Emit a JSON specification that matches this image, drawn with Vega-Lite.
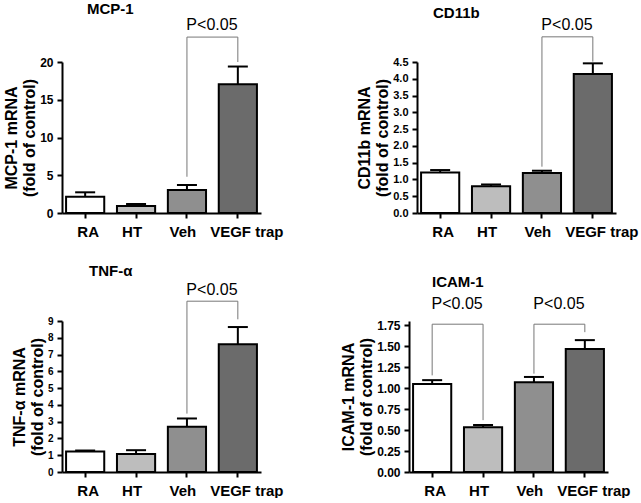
{
  "$schema": "https://vega.github.io/schema/vega-lite/v6.json",
  "padding": {"left": 3, "top": 2, "right": 0, "bottom": 0},
  "background": "white",
  "config": {
    "font": "Liberation Sans",
    "view": {"stroke": null},
    "axis": {"grid": false, "domainColor": "black", "domainWidth": 2, "tickColor": "black", "tickWidth": 2, "tickSize": 5, "labelColor": "black", "labelFontWeight": "bold", "titleColor": "black", "titleFontWeight": "bold", "titleFontSize": 16, "titleLineHeight": 18, "labelOverlap": false},
    "axisX": {"labelFontSize": 15, "labelPadding": 6, "labelAngle": 0, "title": null, "labelOverlap": false},
    "axisY": {"labelFontSize": 12, "labelPadding": 4, "titlePadding": 2, "labelOverlap": false},
    "title": {"fontSize": 15, "fontWeight": "bold", "color": "black", "anchor": "start", "frame": "group"}
  },
  "datasets": {
    "mcp": [
      {"group": "RA", "mean": 2.16, "upper": 2.74},
      {"group": "HT", "mean": 0.93, "upper": 1.19},
      {"group": "Veh", "mean": 3.05, "upper": 3.71},
      {"group": "VEGF trap", "mean": 17.05, "upper": 19.4}
    ],
    "mcpSig": [{"from": "Veh", "to": "VEGF trap", "y1": 4.8, "y2": 20.0, "top": 23.3, "ty": 24.9, "label": "P<0.05"}],
    "cd": [
      {"group": "RA", "mean": 1.21, "upper": 1.28},
      {"group": "HT", "mean": 0.8, "upper": 0.85},
      {"group": "Veh", "mean": 1.19, "upper": 1.26},
      {"group": "VEGF trap", "mean": 4.14, "upper": 4.46}
    ],
    "cdSig": [{"from": "Veh", "to": "VEGF trap", "y1": 1.38, "y2": 4.51, "top": 5.25, "ty": 5.6, "label": "P<0.05"}],
    "tnf": [
      {"group": "RA", "mean": 1.22, "upper": 1.28},
      {"group": "HT", "mean": 1.08, "upper": 1.3},
      {"group": "Veh", "mean": 2.7, "upper": 3.19},
      {"group": "VEGF trap", "mean": 7.62, "upper": 8.64}
    ],
    "tnfSig": [{"from": "Veh", "to": "VEGF trap", "y1": 3.48, "y2": 9.1, "top": 10.18, "ty": 10.87, "label": "P<0.05"}],
    "icam": [
      {"group": "RA", "mean": 1.049, "upper": 1.095},
      {"group": "HT", "mean": 0.534, "upper": 0.56},
      {"group": "Veh", "mean": 1.069, "upper": 1.133},
      {"group": "VEGF trap", "mean": 1.465, "upper": 1.572}
    ],
    "icamSig": [
      {"from": "RA", "to": "HT", "y1": 1.152, "y2": 0.618, "top": 1.762, "ty": 2.0, "label": "P<0.05"},
      {"from": "Veh", "to": "VEGF trap", "y1": 1.172, "y2": 1.667, "top": 1.762, "ty": 2.0, "label": "P<0.05"}
    ]
  },
  "spacing": 24,
  "vconcat": [
    {
      "spacing": 72,
      "hconcat": [
        {
          "width": 199, "height": 151,
          "title": {"text": "MCP-1", "dx": 25, "offset": 0},
          "layer": [
            {"data": {"name": "mcp"}, "mark": {"type": "bar", "stroke": "black", "strokeWidth": 2},
             "encoding": {
               "x": {"field": "group", "type": "nominal", "sort": ["RA", "HT", "Veh", "VEGF trap"], "scale": {"domain": ["RA", "HT", "Veh", "VEGF trap"], "paddingInner": 0.25, "paddingOuter": 0.08}, "axis": {"labelOverlap": false, "labelOffset": {"condition": [{"test": "datum.value === 'VEGF trap'", "value": 9}, {"test": "datum.value === 'RA'", "value": 3}], "value": -4}}},
               "y": {"field": "mean", "type": "quantitative", "scale": {"domain": [0, 20]}, "axis": {"values": [0, 5, 10, 15, 20], "labelOverlap": false, "title": ["MCP-1 mRNA", "(fold of control)"]}},
               "fill": {"field": "group", "type": "nominal", "scale": {"domain": ["RA", "HT", "Veh", "VEGF trap"], "range": ["#ffffff", "#bdbdbd", "#8f8f8f", "#6b6b6b"]}, "legend": null}
             }},
            {"data": {"name": "mcp"}, "mark": {"type": "rule", "strokeWidth": 2, "color": "black"},
             "encoding": {"x": {"field": "group", "type": "nominal"}, "y": {"field": "mean", "type": "quantitative", "axis": {"values": [0, 5, 10, 15, 20], "labelOverlap": false, "title": ["MCP-1 mRNA", "(fold of control)"]}}, "y2": {"field": "upper"}}},
            {"data": {"name": "mcp"}, "mark": {"type": "tick", "thickness": 2, "color": "black", "opacity": 1},
             "encoding": {"x": {"field": "group", "type": "nominal"}, "y": {"field": "upper", "type": "quantitative", "axis": {"values": [0, 5, 10, 15, 20], "labelOverlap": false, "title": ["MCP-1 mRNA", "(fold of control)"]}}, "size": {"value": 20}}},
            {"data": {"name": "mcpSig"}, "mark": {"type": "rule", "strokeWidth": 1, "color": "#777777"},
             "encoding": {"x": {"field": "from", "type": "nominal"}, "y": {"field": "y1", "type": "quantitative", "axis": {"values": [0, 5, 10, 15, 20], "labelOverlap": false, "title": ["MCP-1 mRNA", "(fold of control)"]}}, "y2": {"field": "top"}}},
            {"data": {"name": "mcpSig"}, "mark": {"type": "rule", "strokeWidth": 1, "color": "#777777"},
             "encoding": {"x": {"field": "to", "type": "nominal"}, "y": {"field": "y2", "type": "quantitative", "axis": {"values": [0, 5, 10, 15, 20], "labelOverlap": false, "title": ["MCP-1 mRNA", "(fold of control)"]}}, "y2": {"field": "top"}}},
            {"data": {"name": "mcpSig"}, "mark": {"type": "rule", "strokeWidth": 1, "color": "#777777"},
             "encoding": {"x": {"field": "from", "type": "nominal"}, "x2": {"field": "to"}, "y": {"field": "top", "type": "quantitative", "axis": {"values": [0, 5, 10, 15, 20], "labelOverlap": false, "title": ["MCP-1 mRNA", "(fold of control)"]}}}},
            {"data": {"name": "mcpSig"}, "mark": {"type": "text", "fontSize": 16, "color": "black", "dx": 25, "baseline": "middle"},
             "encoding": {"x": {"field": "from", "type": "nominal"}, "y": {"field": "ty", "type": "quantitative", "axis": {"values": [0, 5, 10, 15, 20], "labelOverlap": false, "title": ["MCP-1 mRNA", "(fold of control)"]}}, "text": {"field": "label"}}}
          ]
        },
        {
          "width": 199, "height": 151,
          "title": {"text": "CD11b", "dx": 16, "offset": 0, "dy": 4},
          "layer": [
            {"data": {"name": "cd"}, "mark": {"type": "bar", "stroke": "black", "strokeWidth": 2},
             "encoding": {
               "x": {"field": "group", "type": "nominal", "sort": ["RA", "HT", "Veh", "VEGF trap"], "scale": {"domain": ["RA", "HT", "Veh", "VEGF trap"], "paddingInner": 0.25, "paddingOuter": 0.08}, "axis": {"labelOverlap": false, "labelOffset": {"condition": [{"test": "datum.value === 'VEGF trap'", "value": 9}, {"test": "datum.value === 'RA'", "value": 3}], "value": -4}}},
               "y": {"field": "mean", "type": "quantitative", "scale": {"domain": [0, 4.5]}, "axis": {"values": [0, 0.5, 1, 1.5, 2, 2.5, 3, 3.5, 4, 4.5], "labelOverlap": false, "labelFontSize": 11, "format": ".1f", "title": ["CD11b mRNA", "(fold of control)"]}},
               "fill": {"field": "group", "type": "nominal", "scale": {"domain": ["RA", "HT", "Veh", "VEGF trap"], "range": ["#ffffff", "#b5b5b5", "#919191", "#666666"]}, "legend": null}
             }},
            {"data": {"name": "cd"}, "mark": {"type": "rule", "strokeWidth": 2, "color": "black"},
             "encoding": {"x": {"field": "group", "type": "nominal"}, "y": {"field": "mean", "type": "quantitative", "axis": {"values": [0, 0.5, 1, 1.5, 2, 2.5, 3, 3.5, 4, 4.5], "labelOverlap": false, "labelFontSize": 11, "format": ".1f", "title": ["CD11b mRNA", "(fold of control)"]}}, "y2": {"field": "upper"}}},
            {"data": {"name": "cd"}, "mark": {"type": "tick", "thickness": 2, "color": "black", "opacity": 1},
             "encoding": {"x": {"field": "group", "type": "nominal"}, "y": {"field": "upper", "type": "quantitative", "axis": {"values": [0, 0.5, 1, 1.5, 2, 2.5, 3, 3.5, 4, 4.5], "labelOverlap": false, "labelFontSize": 11, "format": ".1f", "title": ["CD11b mRNA", "(fold of control)"]}}, "size": {"value": 20}}},
            {"data": {"name": "cdSig"}, "mark": {"type": "rule", "strokeWidth": 1, "color": "#777777"},
             "encoding": {"x": {"field": "from", "type": "nominal"}, "y": {"field": "y1", "type": "quantitative", "axis": {"values": [0, 0.5, 1, 1.5, 2, 2.5, 3, 3.5, 4, 4.5], "labelOverlap": false, "labelFontSize": 11, "format": ".1f", "title": ["CD11b mRNA", "(fold of control)"]}}, "y2": {"field": "top"}}},
            {"data": {"name": "cdSig"}, "mark": {"type": "rule", "strokeWidth": 1, "color": "#777777"},
             "encoding": {"x": {"field": "to", "type": "nominal"}, "y": {"field": "y2", "type": "quantitative", "axis": {"values": [0, 0.5, 1, 1.5, 2, 2.5, 3, 3.5, 4, 4.5], "labelOverlap": false, "labelFontSize": 11, "format": ".1f", "title": ["CD11b mRNA", "(fold of control)"]}}, "y2": {"field": "top"}}},
            {"data": {"name": "cdSig"}, "mark": {"type": "rule", "strokeWidth": 1, "color": "#777777"},
             "encoding": {"x": {"field": "from", "type": "nominal"}, "x2": {"field": "to"}, "y": {"field": "top", "type": "quantitative", "axis": {"values": [0, 0.5, 1, 1.5, 2, 2.5, 3, 3.5, 4, 4.5], "labelOverlap": false, "labelFontSize": 11, "format": ".1f", "title": ["CD11b mRNA", "(fold of control)"]}}}},
            {"data": {"name": "cdSig"}, "mark": {"type": "text", "fontSize": 16, "color": "black", "dx": 25, "baseline": "middle"},
             "encoding": {"x": {"field": "from", "type": "nominal"}, "y": {"field": "ty", "type": "quantitative", "axis": {"values": [0, 0.5, 1, 1.5, 2, 2.5, 3, 3.5, 4, 4.5], "labelOverlap": false, "labelFontSize": 11, "format": ".1f", "title": ["CD11b mRNA", "(fold of control)"]}}, "text": {"field": "label"}}}
          ]
        }
      ]
    },
    {
      "spacing": 56,
      "hconcat": [
        {
          "width": 199, "height": 151,
          "title": {"text": "TNF-α", "dx": 27, "offset": 3},
          "layer": [
            {"data": {"name": "tnf"}, "mark": {"type": "bar", "stroke": "black", "strokeWidth": 2},
             "encoding": {
               "x": {"field": "group", "type": "nominal", "sort": ["RA", "HT", "Veh", "VEGF trap"], "scale": {"domain": ["RA", "HT", "Veh", "VEGF trap"], "paddingInner": 0.25, "paddingOuter": 0.08}, "axis": {"labelOverlap": false, "labelOffset": {"condition": [{"test": "datum.value === 'VEGF trap'", "value": 9}, {"test": "datum.value === 'RA'", "value": 3}], "value": -4}}},
               "y": {"field": "mean", "type": "quantitative", "scale": {"domain": [0, 9]}, "axis": {"values": [0, 1, 2, 3, 4, 5, 6, 7, 8, 9], "labelOverlap": false, "labelFontSize": 10, "title": ["TNF-α mRNA", "(fold of control)"]}},
               "fill": {"field": "group", "type": "nominal", "scale": {"domain": ["RA", "HT", "Veh", "VEGF trap"], "range": ["#ffffff", "#b0b0b0", "#707070", "#7a7a7a"]}, "legend": null}
             }},
            {"data": {"name": "tnf"}, "mark": {"type": "rule", "strokeWidth": 2, "color": "black"},
             "encoding": {"x": {"field": "group", "type": "nominal"}, "y": {"field": "mean", "type": "quantitative", "axis": {"values": [0, 1, 2, 3, 4, 5, 6, 7, 8, 9], "labelOverlap": false, "labelFontSize": 10, "title": ["TNF-α mRNA", "(fold of control)"]}}, "y2": {"field": "upper"}}},
            {"data": {"name": "tnf"}, "mark": {"type": "tick", "thickness": 2, "color": "black", "opacity": 1},
             "encoding": {"x": {"field": "group", "type": "nominal"}, "y": {"field": "upper", "type": "quantitative", "axis": {"values": [0, 1, 2, 3, 4, 5, 6, 7, 8, 9], "labelOverlap": false, "labelFontSize": 10, "title": ["TNF-α mRNA", "(fold of control)"]}}, "size": {"value": 20}}},
            {"data": {"name": "tnfSig"}, "mark": {"type": "rule", "strokeWidth": 1, "color": "#777777"},
             "encoding": {"x": {"field": "from", "type": "nominal"}, "y": {"field": "y1", "type": "quantitative", "axis": {"values": [0, 1, 2, 3, 4, 5, 6, 7, 8, 9], "labelOverlap": false, "labelFontSize": 10, "title": ["TNF-α mRNA", "(fold of control)"]}}, "y2": {"field": "top"}}},
            {"data": {"name": "tnfSig"}, "mark": {"type": "rule", "strokeWidth": 1, "color": "#777777"},
             "encoding": {"x": {"field": "to", "type": "nominal"}, "y": {"field": "y2", "type": "quantitative", "axis": {"values": [0, 1, 2, 3, 4, 5, 6, 7, 8, 9], "labelOverlap": false, "labelFontSize": 10, "title": ["TNF-α mRNA", "(fold of control)"]}}, "y2": {"field": "top"}}},
            {"data": {"name": "tnfSig"}, "mark": {"type": "rule", "strokeWidth": 1, "color": "#777777"},
             "encoding": {"x": {"field": "from", "type": "nominal"}, "x2": {"field": "to"}, "y": {"field": "top", "type": "quantitative", "axis": {"values": [0, 1, 2, 3, 4, 5, 6, 7, 8, 9], "labelOverlap": false, "labelFontSize": 10, "title": ["TNF-α mRNA", "(fold of control)"]}}}},
            {"data": {"name": "tnfSig"}, "mark": {"type": "text", "fontSize": 16, "color": "black", "dx": 25, "baseline": "middle"},
             "encoding": {"x": {"field": "from", "type": "nominal"}, "y": {"field": "ty", "type": "quantitative", "axis": {"values": [0, 1, 2, 3, 4, 5, 6, 7, 8, 9], "labelOverlap": false, "labelFontSize": 10, "title": ["TNF-α mRNA", "(fold of control)"]}}, "text": {"field": "label"}}}
          ]
        },
        {
          "width": 199, "height": 151,
          "title": {"text": "ICAM-1", "dx": 23, "offset": 6},
          "layer": [
            {"data": {"name": "icam"}, "mark": {"type": "bar", "stroke": "black", "strokeWidth": 2},
             "encoding": {
               "x": {"field": "group", "type": "nominal", "sort": ["RA", "HT", "Veh", "VEGF trap"], "scale": {"domain": ["RA", "HT", "Veh", "VEGF trap"], "paddingInner": 0.25, "paddingOuter": 0.08}, "axis": {"labelOverlap": false, "labelOffset": {"condition": [{"test": "datum.value === 'VEGF trap'", "value": 9}, {"test": "datum.value === 'RA'", "value": 3}], "value": -4}}},
               "y": {"field": "mean", "type": "quantitative", "scale": {"domain": [0, 1.75]}, "axis": {"values": [0, 0.25, 0.5, 0.75, 1, 1.25, 1.5, 1.75], "labelOverlap": false, "format": ".2f", "title": ["ICAM-1 mRNA", "(fold of control)"]}},
               "fill": {"field": "group", "type": "nominal", "scale": {"domain": ["RA", "HT", "Veh", "VEGF trap"], "range": ["#ffffff", "#c0c0c0", "#8e8e8e", "#6d6d6d"]}, "legend": null}
             }},
            {"data": {"name": "icam"}, "mark": {"type": "rule", "strokeWidth": 2, "color": "black"},
             "encoding": {"x": {"field": "group", "type": "nominal"}, "y": {"field": "mean", "type": "quantitative", "axis": {"values": [0, 0.25, 0.5, 0.75, 1, 1.25, 1.5, 1.75], "labelOverlap": false, "format": ".2f", "title": ["ICAM-1 mRNA", "(fold of control)"]}}, "y2": {"field": "upper"}}},
            {"data": {"name": "icam"}, "mark": {"type": "tick", "thickness": 2, "color": "black", "opacity": 1},
             "encoding": {"x": {"field": "group", "type": "nominal"}, "y": {"field": "upper", "type": "quantitative", "axis": {"values": [0, 0.25, 0.5, 0.75, 1, 1.25, 1.5, 1.75], "labelOverlap": false, "format": ".2f", "title": ["ICAM-1 mRNA", "(fold of control)"]}}, "size": {"value": 20}}},
            {"data": {"name": "icamSig"}, "mark": {"type": "rule", "strokeWidth": 1, "color": "#777777"},
             "encoding": {"x": {"field": "from", "type": "nominal"}, "y": {"field": "y1", "type": "quantitative", "axis": {"values": [0, 0.25, 0.5, 0.75, 1, 1.25, 1.5, 1.75], "labelOverlap": false, "format": ".2f", "title": ["ICAM-1 mRNA", "(fold of control)"]}}, "y2": {"field": "top"}}},
            {"data": {"name": "icamSig"}, "mark": {"type": "rule", "strokeWidth": 1, "color": "#777777"},
             "encoding": {"x": {"field": "to", "type": "nominal"}, "y": {"field": "y2", "type": "quantitative", "axis": {"values": [0, 0.25, 0.5, 0.75, 1, 1.25, 1.5, 1.75], "labelOverlap": false, "format": ".2f", "title": ["ICAM-1 mRNA", "(fold of control)"]}}, "y2": {"field": "top"}}},
            {"data": {"name": "icamSig"}, "mark": {"type": "rule", "strokeWidth": 1, "color": "#777777"},
             "encoding": {"x": {"field": "from", "type": "nominal"}, "x2": {"field": "to"}, "y": {"field": "top", "type": "quantitative", "axis": {"values": [0, 0.25, 0.5, 0.75, 1, 1.25, 1.5, 1.75], "labelOverlap": false, "format": ".2f", "title": ["ICAM-1 mRNA", "(fold of control)"]}}}},
            {"data": {"name": "icamSig"}, "mark": {"type": "text", "fontSize": 16, "color": "black", "dx": 25, "baseline": "middle"},
             "encoding": {"x": {"field": "from", "type": "nominal"}, "y": {"field": "ty", "type": "quantitative", "axis": {"values": [0, 0.25, 0.5, 0.75, 1, 1.25, 1.5, 1.75], "labelOverlap": false, "format": ".2f", "title": ["ICAM-1 mRNA", "(fold of control)"]}}, "text": {"field": "label"}}}
          ]
        }
      ]
    }
  ]
}
